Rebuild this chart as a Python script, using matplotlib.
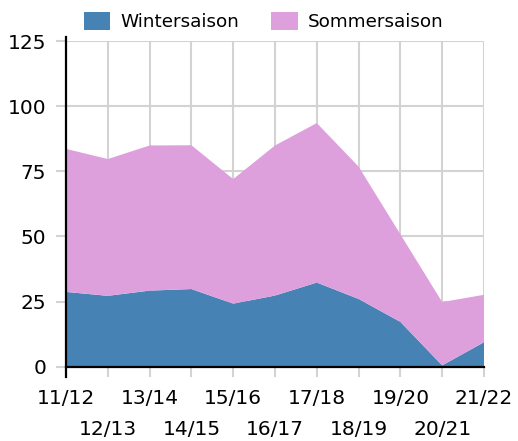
import numpy as np
import matplotlib.pyplot as plt

seasons = ['11/12', '12/13', '13/14', '14/15', '15/16', '16/17',
           '17/18', '18/19', '19/20', '20/21', '21/22']
winter = [28.7, 27.2, 29.2, 29.8, 24.2, 27.3, 32.3, 26.0, 17.2, 0.5, 9.4]
summer = [54.9, 52.5, 55.7, 55.2, 47.8, 57.6, 61.2, 50.8, 33.6, 24.3, 18.2]
yticks = [0, 25, 50, 75, 100, 125]

plt.rcParams['font.family'] = ['DejaVu Sans']

fig = plt.figure(figsize=(5.18, 4.41), dpi=100)
ax = fig.add_axes([66 / 518, 1 - 366.7 / 441, 418 / 518, 325.7 / 441])

x = np.arange(len(seasons))
ax.stackplot(x, winter, summer, colors=['#4682b4', '#dda0dd'],
             labels=['Wintersaison', 'Sommersaison'], linewidth=0)

ax.set_xlim(0, len(seasons) - 1)
ax.set_ylim(0, 125)
ax.set_yticks(yticks)
# first row on major ticks, second row on minor ticks
ax.set_xticks(x[::2])
ax.set_xticklabels(seasons[::2])
ax.set_xticks(x[1::2], minor=True)
ax.set_xticklabels(seasons[1::2], minor=True)

ax.grid(True, which='both', color='#d3d3d3', linewidth=1.5, zorder=0)
ax.set_axisbelow(True)
ax.tick_params(axis='both', which='both', colors='#d3d3d3', length=7.2, width=1.5,
               labelcolor='black', labelsize=14.5)
ax.tick_params(axis='y', pad=7)
ax.tick_params(axis='x', which='major', pad=9)
ax.tick_params(axis='x', which='minor', pad=31)

for s in ['top', 'right']:
    ax.spines[s].set_visible(False)
for s in ['left', 'bottom']:
    ax.spines[s].set_color('black')
    ax.spines[s].set_linewidth(1.6)
    ax.spines[s].set_zorder(5)
ax.spines['left'].set_bounds(-3.9, 126.5)

fig.legend(loc='upper center', bbox_to_anchor=(0.509, 1.0), ncol=2, frameon=False,
           fontsize=13.2, handlelength=1.45, handleheight=1.1, handletextpad=0.55,
           columnspacing=1.75, borderaxespad=0.25)

fig.savefig('out.png', dpi=100)
